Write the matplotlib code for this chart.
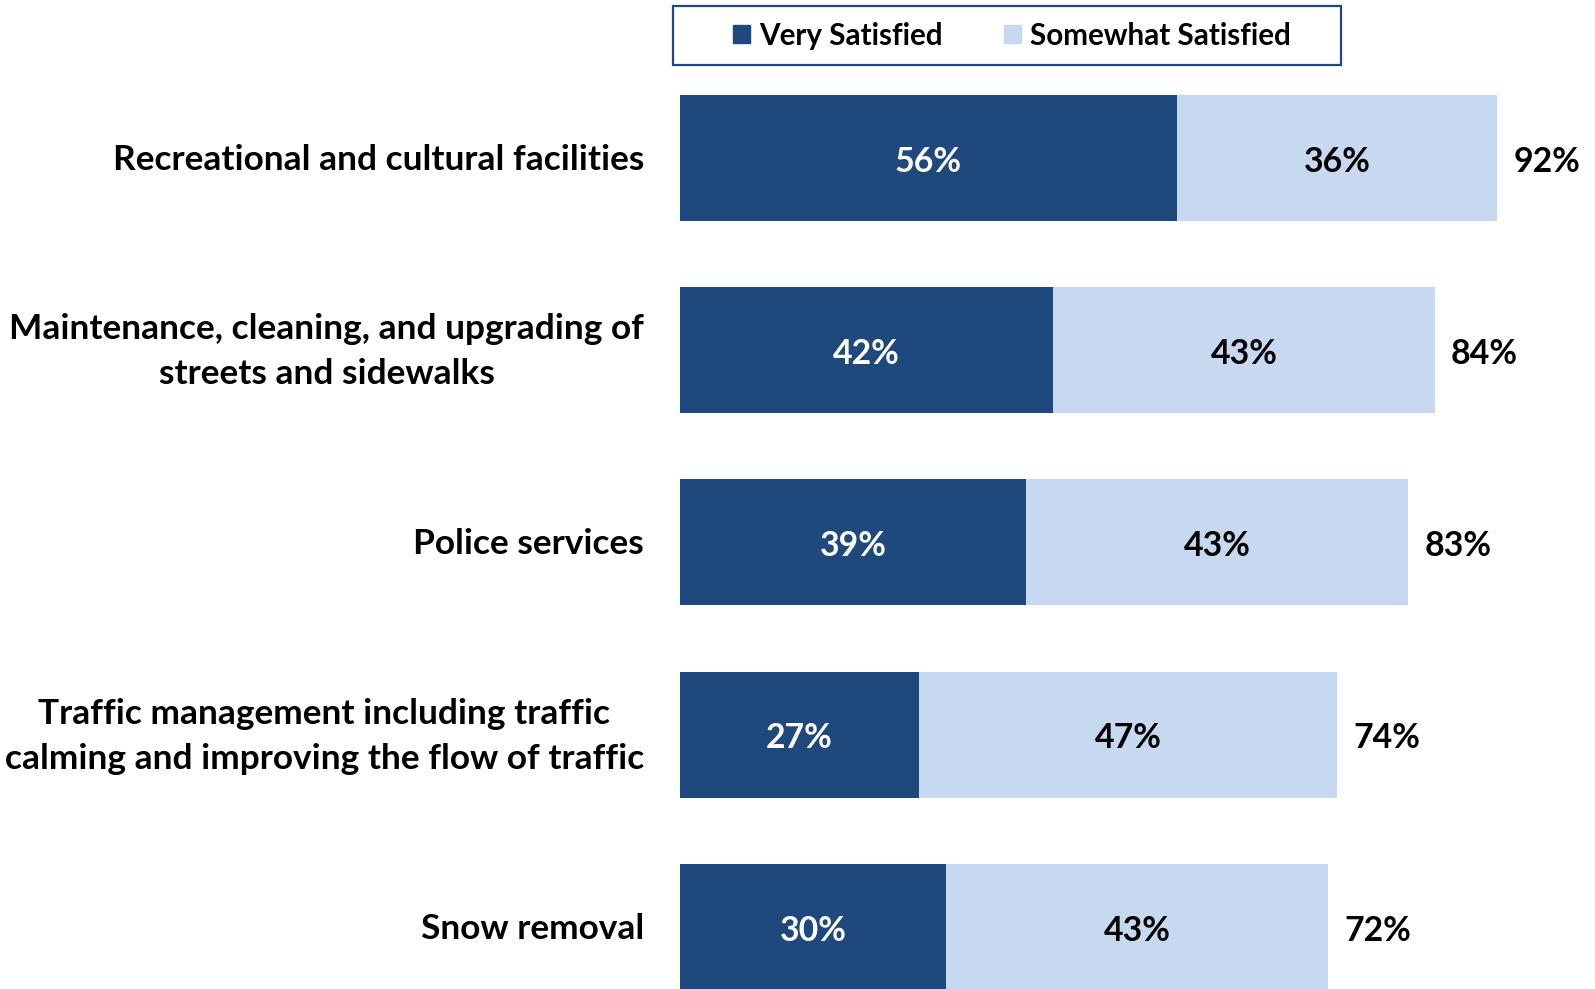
import matplotlib.pyplot as plt
from matplotlib.patches import Patch, Rectangle

plt.rcParams['font.family'] = ['Lato', 'DejaVu Sans']
plt.rcParams['font.weight'] = 'bold'

categories = [
    "Recreational and cultural facilities",
    "Maintenance, cleaning, and upgrading of\nstreets and sidewalks",
    "Police services",
    "Traffic management including traffic\ncalming and improving the flow of traffic",
    "Snow removal",
]
very_satisfied = [56, 42, 39, 27, 30]
somewhat_satisfied = [36, 43, 43, 47, 43]
totals = [92, 84, 83, 74, 72]

dark_blue = '#1F497D'
light_blue = '#C6D9F1'

fig = plt.figure(figsize=(15.95, 9.89), dpi=100)
ax = fig.add_axes([679.5 / 1595, 0, 1 - 679.5 / 1595, 1])

y = list(range(len(categories)))
h = 0.655
ax.barh(y, very_satisfied, height=h, color=dark_blue, label='Very Satisfied')
ax.barh(y, somewhat_satisfied, left=very_satisfied, height=h, color=light_blue,
        label='Somewhat Satisfied')

fs_val = 24.4
fs_cat = 25.4
for i in y:
    v, s = very_satisfied[i], somewhat_satisfied[i]
    yv = i + 0.02
    ax.text(v / 2, yv, f"{v}%", ha='center', va='center', color='white', fontsize=fs_val, fontweight='bold')
    ax.text(v + s / 2, yv, f"{s}%", ha='center', va='center', color='black', fontsize=fs_val, fontweight='bold')
    ax.text(v + s + 1.8, yv, f"{totals[i]}%", ha='left', va='center', color='black', fontsize=fs_val, fontweight='bold')
    ax.text(-4.0, i + 0.01, categories[i], ha='right', va='center', multialignment='center',
            color='black', fontsize=fs_cat, fontweight='bold', linespacing=1.5)

ax.set_xlim(0, 103)
ax.set_ylim(4.323, -0.82)
ax.axis('off')

# legend box drawn separately so its size matches the original
fig.patches.append(Rectangle((0.4222, 0.9342), 0.8406 - 0.4222, 0.9938 - 0.9342,
                             transform=fig.transFigure, fill=False,
                             edgecolor=dark_blue, linewidth=1.6))
handles = [Patch(color=dark_blue), Patch(color=light_blue)]
leg = fig.legend(handles, ['Very Satisfied', 'Somewhat Satisfied'], ncol=2,
                 loc='center', bbox_to_anchor=(0.6346, 0.964),
                 fontsize=21.3, frameon=False,
                 handlelength=0.58, handleheight=0.58, handletextpad=0.31,
                 columnspacing=2.06, borderpad=0)
for t in leg.get_texts():
    t.set_fontweight('bold')

fig.savefig('out.png', dpi=100)
